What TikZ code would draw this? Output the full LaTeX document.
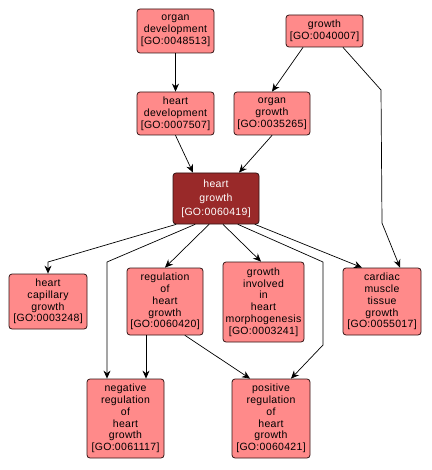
\documentclass[tikz,border=0pt]{standalone}
\usepackage{fontspec}
\setmainfont{Liberation Sans}[LetterSpace=3]
\usetikzlibrary{arrows.meta}
\definecolor{termfill}{RGB}{255,138,138}
\definecolor{termhit}{RGB}{153,41,41}
\definecolor{termline}{RGB}{50,20,20}

\begin{document}
\begin{tikzpicture}[x=1pt,y=-1pt,line cap=round,line join=round,>={Stealth[length=8pt,width=7pt]}]
\tikzset{term/.style={draw=termline,fill=termfill,rounded corners=3pt,line width=0.8pt,align=center,inner sep=0pt,font=\fontsize{10.5}{11.8}\selectfont},
  hit/.style={term,fill=termhit,text=white,font=\fontsize{10.5}{14}\selectfont},
  link/.style={->,line width=0.7pt}}
\useasboundingbox (0,0) rectangle (431,470);

% top rows
\node[term,minimum width=77pt,minimum height=44pt] (od) at (175.5,31) {organ\\development\\{[GO:0048513]}};
\node[term,minimum width=77pt,minimum height=32pt] (gr) at (324.5,31) {growth\\{[GO:0040007]}};
\node[term,minimum width=77pt,minimum height=43pt] (hd) at (175.5,113.5) {heart\\development\\{[GO:0007507]}};
\node[term,minimum width=76pt,minimum height=43pt] (og) at (272,113.5) {organ\\growth\\{[GO:0035265]}};
\node[hit,minimum width=86pt,minimum height=51pt] (hg) at (216,198.5) {heart\\growth\\{[GO:0060419]}};

% children
\node[term,minimum width=78pt,minimum height=55pt] (hcg) at (48,301.5) {heart\\capillary\\growth\\{[GO:0003248]}};
\node[term,minimum width=76pt,minimum height=67pt] (reg) at (165,301.5) {regulation\\of\\heart\\growth\\{[GO:0060420]}};
\node[term,minimum width=81pt,minimum height=80pt] (gim) at (263.5,302) {growth\\involved\\in\\heart\\morphogenesis\\{[GO:0003241]}};
\node[term,minimum width=78pt,minimum height=67pt] (cmt) at (382,301.5) {cardiac\\muscle\\tissue\\growth\\{[GO:0055017]}};
\node[term,minimum width=77pt,minimum height=79pt] (neg) at (125.5,418.5) {negative\\regulation\\of\\heart\\growth\\{[GO:0061117]}};
\node[term,minimum width=78pt,minimum height=79pt] (pos) at (271,418.5) {positive\\regulation\\of\\heart\\growth\\{[GO:0060421]}};

% bends
\coordinate (b1) at (381,90);
\coordinate (b2) at (382,223);
\coordinate (b3) at (48,262);
\coordinate (b4) at (107,262);
\coordinate (b5) at (323,262);
\coordinate (b6) at (323,345);

\draw[link] (od.south) -- (hd.north);
\draw[link] ([xshift=-21.5pt]gr.south) -- (og.north);
\draw[link] ([xshift=18.5pt]gr.south) -- (b1) -- (b2) -- ([xshift=18pt]cmt.north);
\draw[link] (hd.south) -- ([xshift=-23pt]hg.north);
\draw[link] (og.south) -- ([xshift=23pt]hg.north);
\draw[link] ([xshift=-40pt]hg.south) -- (b3) -- (hcg.north);
\draw[link] ([xshift=-21pt]hg.south) -- (b4) -- ([xshift=-18.5pt]neg.north);
\draw[link] ([xshift=-7pt]hg.south) -- (reg.north);
\draw[link] ([xshift=7pt]hg.south) -- ([xshift=-2.5pt]gim.north);
\draw[link] ([xshift=22pt]hg.south) -- (b5) -- (b6) -- ([xshift=20pt]pos.north);
\draw[link] ([xshift=39pt]hg.south) -- ([xshift=-20pt]cmt.north);
\draw[link] ([xshift=-19pt]reg.south) -- ([xshift=20.5pt]neg.north);
\draw[link] ([xshift=20pt]reg.south) -- ([xshift=-21pt]pos.north);
\end{tikzpicture}
\end{document}
